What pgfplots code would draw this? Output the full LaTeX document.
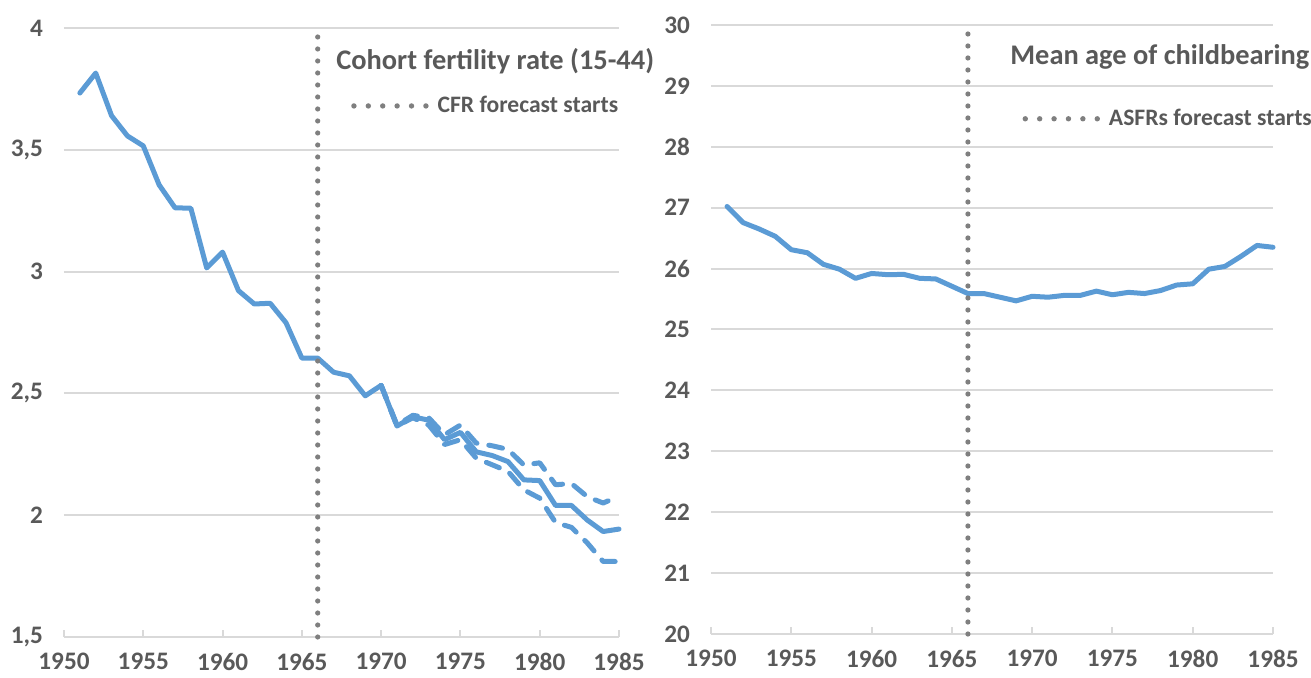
\documentclass[border=0pt]{standalone}
\usepackage{pgfplots}
\pgfplotsset{compat=1.18}
\usepackage{fontspec}
\setmainfont{Carlito}
\definecolor{cblue}{HTML}{5B9BD5}
\definecolor{ctext}{HTML}{595959}
\definecolor{cgrid}{HTML}{D9D9D9}
\definecolor{cdot}{HTML}{7F7F7F}
\pgfplotsset{
  panel/.style={
    scale only axis,
    clip=false,
    axis x line*=bottom, axis y line*=left,
    y axis line style={draw=none},
    x axis line style={cgrid, line width=1pt},
    xtick style={cgrid, line width=1pt},
    ytick style={draw=none},
    tick align=inside,
    major tick length=3.5pt,
    ymajorgrids,
    grid style={cgrid, line width=1pt},
    xmin=1950, xmax=1985,
    xtick={1950,1955,...,1985},
    tick label style={font=\bfseries\fontsize{12.6}{14}\selectfont, text=ctext},
    /pgf/number format/assume math mode=true,
    xticklabel style={/pgf/number format/1000 sep={}, yshift=-4.5pt},
    yticklabel style={/pgf/number format/use comma, xshift=-7pt},
    legend style={draw=none, fill=none, font=\bfseries\fontsize{11.8}{14}\selectfont, text=ctext, anchor=west, column sep=2.5pt},
    legend image code/.code={\draw[cdot, line width=2.7pt, line cap=round, dash pattern=on 0pt off 7.2pt] (0pt,0pt) -- (36pt,0pt);},
  },
  mainline/.style={cblue, line width=2.5pt, line join=round, line cap=round, forget plot},
  dashline/.style={cblue, line width=2.5pt, line join=round, line cap=round, dash pattern=on 7pt off 6pt, forget plot},
  vline/.style={cdot, line width=2.6pt, line cap=round, dash pattern=on 0pt off 6pt},
}
\begin{document}
\begin{tikzpicture}
\useasboundingbox (0,0) rectangle (655.5pt,339pt);
% ---------- Left panel ----------
\begin{axis}[panel,
  at={(32pt,20.5pt)}, anchor=south west,
  width=277.5pt, height=304.5pt,
  ymin=1.5, ymax=4, ytick={1.5,2,...,4},
  legend style={at={(0.506,0.872)}},
]
\addplot[mainline] coordinates {
(1951,3.733) (1952,3.815) (1953,3.64) (1954,3.557) (1955,3.516)
(1956,3.356) (1957,3.262) (1958,3.26) (1959,3.015) (1960,3.08)
(1961,2.922) (1962,2.867) (1963,2.87) (1964,2.79) (1965,2.645)
(1966,2.645) (1967,2.587) (1968,2.572) (1969,2.49) (1970,2.533)
(1971,2.366) (1972,2.404) (1973,2.39) (1974,2.31) (1975,2.34)
(1976,2.26) (1977,2.245) (1978,2.22) (1979,2.145) (1980,2.142)
(1981,2.04) (1982,2.04) (1983,1.98) (1984,1.933) (1985,1.943)
};
\addplot[dashline] coordinates {
(1970,2.533) (1971,2.37) (1972,2.41) (1973,2.40) (1974,2.33) (1975,2.37)
(1976,2.296) (1977,2.285) (1978,2.27) (1979,2.206) (1980,2.215)
(1981,2.125) (1982,2.13) (1983,2.076) (1984,2.05) (1985,2.078)
};
\addplot[dashline] coordinates {
(1970,2.533) (1971,2.366) (1972,2.40) (1973,2.37) (1974,2.29) (1975,2.31)
(1976,2.234) (1977,2.207) (1978,2.18) (1979,2.104) (1980,2.07)
(1981,1.97) (1982,1.95) (1983,1.886) (1984,1.81) (1985,1.81)
};
\addplot[vline] coordinates {(1966,1.5) (1966,4)};
\addlegendentry{CFR forecast starts}
\node[anchor=west, font=\bfseries\fontsize{14.2}{16}\selectfont, text=ctext, inner sep=0pt]
  at (rel axis cs:0.49,0.946) {Cohort fertility rate (15-44)};
\end{axis}
% ---------- Right panel ----------
\begin{axis}[panel,
  at={(355.5pt,22pt)}, anchor=south west,
  width=281pt, height=304.5pt,
  ymin=20, ymax=30, ytick={20,21,...,30},
  legend style={at={(0.543,0.846)}},
]
\addplot[mainline] coordinates {
(1951,27.02) (1952,26.755) (1953,26.65) (1954,26.53) (1955,26.31)
(1956,26.26) (1957,26.07) (1958,25.99) (1959,25.84) (1960,25.92)
(1961,25.90) (1962,25.905) (1963,25.84) (1964,25.83) (1965,25.71)
(1966,25.59) (1967,25.59) (1968,25.53) (1969,25.47) (1970,25.545)
(1971,25.53) (1972,25.56) (1973,25.56) (1974,25.63) (1975,25.57)
(1976,25.61) (1977,25.59) (1978,25.64) (1979,25.73) (1980,25.75)
(1981,25.99) (1982,26.035) (1983,26.2) (1984,26.38) (1985,26.35)
};
\addplot[vline] coordinates {(1966,20) (1966,30)};
\addlegendentry{ASFRs forecast starts}
\node[anchor=west, font=\bfseries\fontsize{14.2}{16}\selectfont, text=ctext, inner sep=0pt]
  at (rel axis cs:0.532,0.947) {Mean age of childbearing};
\end{axis}
\end{tikzpicture}
\end{document}
